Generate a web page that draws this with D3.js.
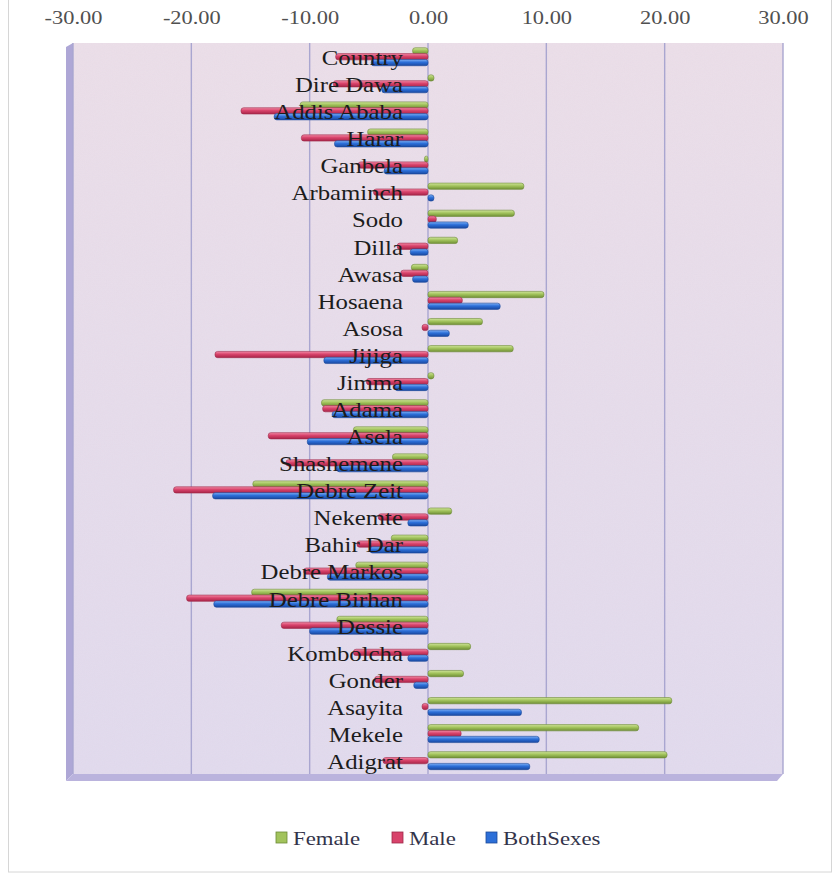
<!DOCTYPE html>
<html>
<head>
<meta charset="utf-8">
<script src="https://cdn.jsdelivr.net/npm/d3@7"></script>
<style>
  html, body { margin: 0; padding: 0; background: #ffffff; }
  svg { display: block; }
</style>
</head>
<body>
<div id="chart"></div>
<script>
// Population change by town (%), by sex
const categories = ["Country", "Dire Dawa", "Addis Ababa", "Harar", "Ganbela", "Arbaminch", "Sodo",
  "Dilla", "Awasa", "Hosaena", "Asosa", "Jijiga", "Jimma", "Adama", "Asela", "Shashemene",
  "Debre Zeit", "Nekemte", "Bahir Dar", "Debre Markos", "Debre Birhan", "Dessie", "Kombolcha",
  "Gonder", "Asayita", "Mekele", "Adigrat"];

const female = [-1.3, 0.5, -10.8, -5.1, -0.3, 8.1, 7.3, 2.5, -1.4, 9.8, 4.6, 7.2, 0.5, -9.0, -6.3, -3.0,
  -14.8, 2.0, -3.1, -6.1, -14.9, -7.7, 3.6, 3.0, 20.6, 17.8, 20.2];
const male = [-7.8, -8.0, -15.8, -10.7, -5.9, -4.6, 0.7, -2.6, -2.3, 2.9, -0.5, -18.0, -5.2, -8.9, -13.5, -12.0,
  -21.5, -4.2, -6.0, -10.5, -20.4, -12.4, -6.3, -4.5, -0.5, 2.8, -3.8];
const bothSexes = [-4.8, -3.9, -13.0, -7.9, -3.7, 0.5, 3.4, -1.5, -1.3, 6.1, 1.8, -8.8, -2.8, -8.1, -10.2, -7.7,
  -18.2, -1.7, -4.9, -8.5, -18.1, -10.0, -1.7, -1.2, 7.9, 9.4, 8.6];

const seriesNames = ["Female", "Male", "BothSexes"];
const xTicks = [-30, -20, -10, 0, 10, 20, 30];

const series = [
  { name: seriesNames[0], values: female, light: "#cfe49a", mid: "#a2c35c", dark: "#6f8f35", stroke: "#6c8a36" },
  { name: seriesNames[1], values: male, light: "#f28aa6", mid: "#d8436b", dark: "#a82448", stroke: "#9e2a4a" },
  { name: seriesNames[2], values: bothSexes, light: "#7fb0f5", mid: "#2c6fd8", dark: "#1a48a0", stroke: "#1c4a9a" }
];

const W = 840, H = 876;
const plot = { left: 73, right: 783, top: 43, bottom: 774 };
const serif = "Liberation Serif";

const svg = d3.select("#chart").append("svg")
  .attr("width", W).attr("height", H);

const defs = svg.append("defs");

// back wall gradient
const wallGrad = defs.append("linearGradient").attr("id", "wall")
  .attr("x1", 0).attr("y1", 0).attr("x2", 0).attr("y2", 1);
wallGrad.append("stop").attr("offset", "0%").attr("stop-color", "#ecdfe9");
wallGrad.append("stop").attr("offset", "100%").attr("stop-color", "#e2dbee");

// paper grain on the back wall
const grain = defs.append("filter").attr("id", "grain")
  .attr("x", 0).attr("y", 0).attr("width", "100%").attr("height", "100%");
grain.append("feTurbulence").attr("type", "fractalNoise").attr("baseFrequency", 0.9)
  .attr("numOctaves", 2).attr("seed", 7).attr("result", "noise");
grain.append("feColorMatrix").attr("in", "noise").attr("type", "matrix")
  .attr("values", "0 0 0 0 0.55  0 0 0 0 0.5  0 0 0 0 0.6  0 0 0 0.09 0");
grain.append("feComposite").attr("in2", "SourceGraphic").attr("operator", "in");

series.forEach((s, i) => {
  const g = defs.append("linearGradient").attr("id", "bar" + i)
    .attr("x1", 0).attr("y1", 0).attr("x2", 0).attr("y2", 1);
  g.append("stop").attr("offset", "0%").attr("stop-color", s.light);
  g.append("stop").attr("offset", "45%").attr("stop-color", s.mid);
  g.append("stop").attr("offset", "100%").attr("stop-color", s.dark);
});

// outer chart frame
svg.append("rect")
  .attr("x", 8.5).attr("y", -2).attr("width", 823).attr("height", 874)
  .attr("fill", "none").attr("stroke", "#d6d6d6").attr("stroke-width", 1);

const x = d3.scaleLinear().domain([-30, 30]).range([plot.left, plot.right]);
const y = d3.scaleBand().domain(categories).range([plot.top, plot.bottom])
  .paddingInner(0.35).paddingOuter(0.175);
const ySub = d3.scaleBand().domain(seriesNames).range([0, y.bandwidth()]).padding(0);

// back wall
svg.append("rect")
  .attr("x", plot.left).attr("y", plot.top)
  .attr("width", plot.right - plot.left).attr("height", plot.bottom - plot.top)
  .attr("fill", "url(#wall)");
svg.append("rect")
  .attr("x", plot.left).attr("y", plot.top)
  .attr("width", plot.right - plot.left).attr("height", plot.bottom - plot.top)
  .attr("fill", "#ffffff").attr("filter", "url(#grain)");

// side wall and floor
svg.append("polygon")
  .attr("points", [[66, 47], [plot.left, plot.top], [plot.left, plot.bottom], [66, 781]].join(" "))
  .attr("fill", "#aea7d6");
svg.append("polygon")
  .attr("points", [[66, 781], [plot.left, plot.bottom], [plot.right, plot.bottom], [777, 781]].join(" "))
  .attr("fill", "#bab3dd");

// vertical gridlines
svg.append("g").selectAll("line").data(xTicks).join("line")
  .attr("x1", d => x(d)).attr("x2", d => x(d))
  .attr("y1", plot.top).attr("y2", plot.bottom)
  .attr("stroke", "#a9a6d0").attr("stroke-width", 1.4);

// top axis labels
const axis = d3.axisTop(x).tickValues(xTicks).tickSize(0).tickPadding(0)
  .tickFormat(d => d.toFixed(2));
const axisG = svg.append("g").attr("transform", "translate(0,24)").call(axis);
axisG.select(".domain").remove();
axisG.selectAll("text")
  .attr("font-family", serif).attr("font-size", 19)
  .attr("transform", "scale(1.18,1)")
  .attr("fill", "#505050");

// bars
const barsG = svg.append("g");
series.forEach((s, si) => {
  barsG.append("g").selectAll("rect").data(s.values).join("rect")
    .attr("x", d => Math.min(x(0), x(d)))
    .attr("width", d => Math.max(Math.abs(x(d) - x(0)), 3))
    .attr("y", (d, i) => y(categories[i]) + ySub(s.name))
    .attr("height", ySub.bandwidth() + 0.4)
    .attr("rx", 2.6).attr("ry", 2.6)
    .attr("fill", "url(#bar" + si + ")")
    .attr("stroke", s.stroke).attr("stroke-width", 0.6);
});

// category labels
svg.append("g").selectAll("text").data(categories).join("text")
  .attr("transform", d => `translate(403,${y(d) + y.bandwidth() / 2 + 8.5}) scale(1.24,1)`)
  .attr("text-anchor", "end")
  .attr("font-family", serif).attr("font-size", 20)
  .attr("fill", "#1c1c1c")
  .text(d => d);

// legend
const legendX = [276, 392, 486];
const legend = svg.append("g");
series.forEach((s, i) => {
  legend.append("rect")
    .attr("x", legendX[i]).attr("y", 832).attr("width", 11).attr("height", 11)
    .attr("fill", s.mid).attr("stroke", s.stroke).attr("stroke-width", 0.8);
  legend.append("text")
    .attr("transform", `translate(${legendX[i] + 17},845) scale(1.2,1)`)
    .attr("font-family", serif).attr("font-size", 19)
    .attr("fill", "#33334a")
    .text(s.name);
});
</script>
</body>
</html>
